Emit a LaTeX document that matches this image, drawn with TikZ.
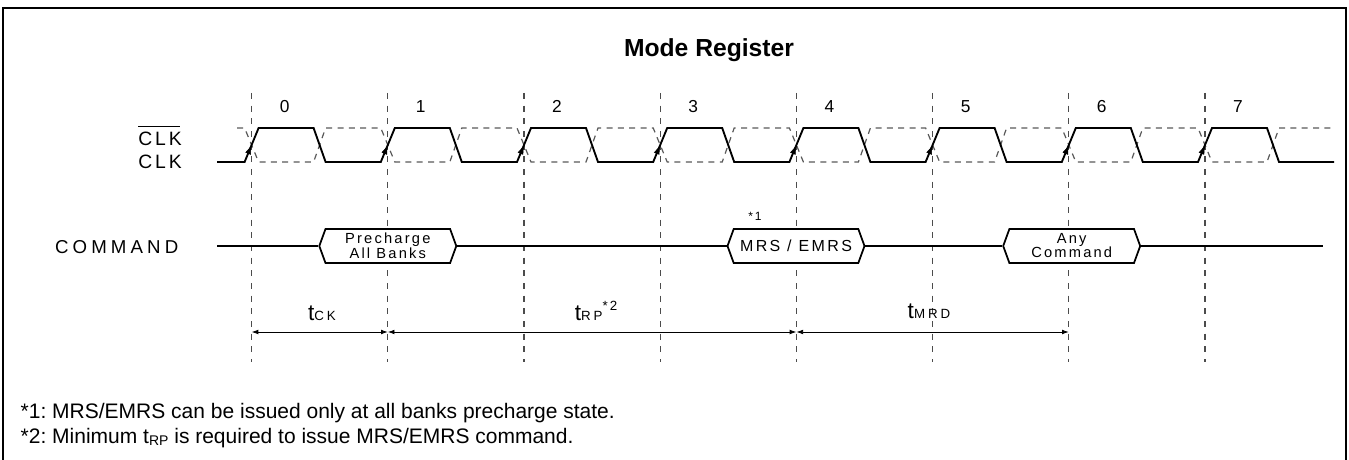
\documentclass[tikz,border=0pt]{standalone}
\usepackage{fontspec}
\setmainfont{Liberation Sans}
\newfontfamily\spaced[LetterSpace=15]{Liberation Sans}
\newfontfamily\spacedwide[LetterSpace=22]{Liberation Sans}
\usetikzlibrary{shapes.symbols,arrows.meta}
\frenchspacing

\newcommand{\tparam}[1]{{\fontsize{17}{20}\selectfont t}{\spacedwide\fontsize{10}{12}\selectfont #1}}

\begin{document}
\begin{tikzpicture}[x=0.75pt,y=-0.75pt,
    wave/.style={black, line width=1.4pt},
    ghostwave/.style={black!65, line width=0.9pt, dash pattern=on 4.5pt off 4pt},
    edgeline/.style={black!70, line width=0.9pt, dash pattern=on 4.5pt off 5pt},
    cmdbox/.style={draw, line width=1.3pt, signal, signal to=west and east,
      signal pointer angle=140, minimum width=102.75pt, minimum height=25.5pt,
      inner sep=0pt, align=center, fill=white},
    timespan/.style={line width=0.6pt, {Latex[length=5pt,width=3.5pt]}-{Latex[length=5pt,width=3.5pt]}}]
  \useasboundingbox (0,0) rectangle (1349,460);
  % frame
  \draw[line width=1.5pt] (3,470) -- (3,8) -- (1346,8) -- (1346,470);
  \node[font=\bfseries\fontsize{18.5}{22}\selectfont, anchor=base] (title) at (709,57) {Mode Register};

  % clock edges
  \foreach \i in {0,...,7} {
    \pgfmathsetmacro\ex{251.6+136.2*\i}
    \coordinate (e\i) at (\ex,332);
    \draw[edgeline] (\ex,93) -- (\ex,362);
    \node[font=\fontsize{13}{15}\selectfont, anchor=base] (n\i) at (\ex+33,113) {\i};
  }
  \draw[ghostwave] (237,128) \foreach \i in {0,...,7}{
      -- ({251.6+136.2*\i-7},128) -- ({251.6+136.2*\i+7},162)
      -- ({251.6+136.2*\i+62},162) -- ({251.6+136.2*\i+74},128) } -- (1334,128);
  \draw[wave] (217,162) \foreach \i in {0,...,7}{
      -- ({251.6+136.2*\i-7},162) -- ({251.6+136.2*\i+7},128)
      -- ({251.6+136.2*\i+62},128) -- ({251.6+136.2*\i+74},162) } -- (1334,162);
  \foreach \i in {0,...,7}
    \draw[-{Latex[length=7pt,width=4.5pt]}] ([shift={(-4.1,155)}]e\i |- 0,0) -- ([shift={(0,145)}]e\i |- 0,0);

  % signal names
  \node[font=\spaced\fontsize{14.5}{16}\selectfont, anchor=base, inner sep=0pt] (clkn) at (160,145) {CLK};
  \draw[line width=0.9pt] ([yshift=3.5pt]clkn.north west) -- ([yshift=3.5pt,xshift=-1.5pt]clkn.north east);
  \node[font=\spaced\fontsize{14.5}{16}\selectfont, anchor=base, inner sep=0pt] (clk) at (160,168) {CLK};
  \node[font=\spacedwide\fontsize{14}{16}\selectfont, anchor=base] (cmdname) at (116.7,253.5) {COMMAND};

  % command bus
  \node[cmdbox, font=\spaced\fontsize{11}{11.5}\selectfont] (pre) at (387.8,246) {Precharge\\All Banks};
  \node[cmdbox, font=\spaced\fontsize{12}{14}\selectfont] (mrs) at (796,246) {MRS / EMRS};
  \node[font=\spaced\fontsize{9}{10}\selectfont, anchor=base] (note1) at (755,220) {*1};
  \node[cmdbox, font=\spaced\fontsize{11}{10.5}\selectfont] (any) at (1071.7,246) {Any\\Command};
  \coordinate (cmdstart) at (217,246);
  \coordinate (cmdend) at (1323,246);
  \draw[wave] (cmdstart) -- (pre.west) (pre.east) -- (mrs.west) (mrs.east) -- (any.west) (any.east) -- (cmdend);

  % timing
  \draw[timespan] (e0) -- (e1);
  \draw[timespan] (e1) -- (e4);
  \draw[timespan] (e4) -- (e6);
  \node[anchor=base] (tck) at (322,320) {\tparam{CK}};
  \node[anchor=base] (trp) at (596,320) {\tparam{RP}\raisebox{7pt}{\spaced\fontsize{10}{11}\selectfont *2}};
  \node[anchor=base] (tmrd) at (929,318) {\tparam{MRD}};

  % notes
  \node[anchor=base west, font=\fontsize{15.75}{18}\selectfont] (fn1) at (16,418) {*1: MRS/EMRS can be issued only at all banks precharge state.};
  \node[anchor=base west, font=\fontsize{15.75}{18}\selectfont] (fn2) at (16,443) {*2: Minimum t\raisebox{-1.5pt}{\fontsize{10.5}{12}\selectfont RP} is required to issue MRS/EMRS command.};
\end{tikzpicture}
\end{document}
